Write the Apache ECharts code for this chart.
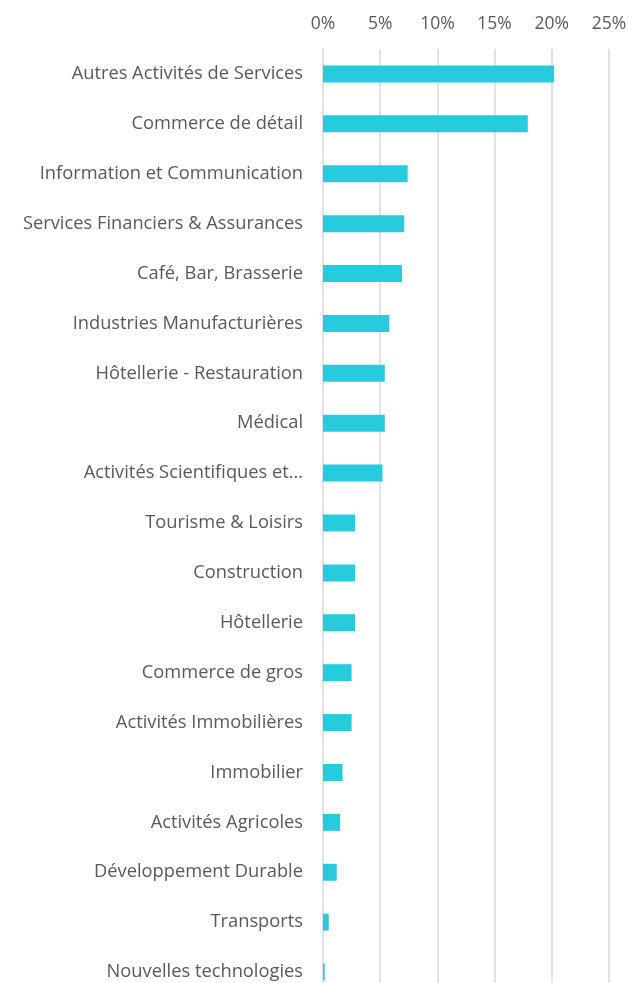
<!DOCTYPE html>
<html>
<head>
<meta charset="utf-8">
<script src="https://cdn.jsdelivr.net/npm/echarts@6/dist/echarts.min.js"></script>
<style>
  html, body { margin: 0; padding: 0; background: #fff; }
  #chart { width: 629px; height: 983px; }
</style>
</head>
<body>
<div id="chart"></div>
<script>
// secteurs (de haut en bas)
var secteurs = [
    'Autres Activités de Services',
    'Commerce de détail',
    'Information et Communication',
    'Services Financiers & Assurances',
    'Café, Bar, Brasserie',
    'Industries Manufacturières',
    'Hôtellerie - Restauration',
    'Médical',
    'Activités Scientifiques et…',
    'Tourisme & Loisirs',
    'Construction',
    'Hôtellerie',
    'Commerce de gros',
    'Activités Immobilières',
    'Immobilier',
    'Activités Agricoles',
    'Développement Durable',
    'Transports',
    'Nouvelles technologies'
];

// part en %
var parts = [20.2, 17.9, 7.4, 7.1, 6.9, 5.8, 5.4, 5.4, 5.2, 2.8, 2.8, 2.8, 2.5, 2.5, 1.7, 1.5, 1.2, 0.5, 0.15];

// graduations de l'axe
var graduations = [0, 5, 10, 15, 20, 25];

var chart = echarts.init(document.getElementById('chart'));

chart.setOption({
    animation: false,
    grid: {
        left: 323,
        top: 49,
        width: 286,
        height: 948,
        outerBoundsMode: 'none'
    },
    xAxis: {
        type: 'value',
        position: 'top',
        min: graduations[0],
        max: graduations[graduations.length - 1],
        interval: 5,
        axisLine: { show: false },
        axisTick: { show: false },
        axisLabel: {
            formatter: '{value}%',
            color: '#595959',
            fontFamily: 'Open Sans',
            fontSize: 17.5,
            margin: 16
        },
        splitLine: {
            lineStyle: { color: '#d9d9d9', width: 1.5 }
        }
    },
    yAxis: {
        type: 'category',
        inverse: true,
        data: secteurs,
        axisLine: { show: false },
        axisTick: { show: false },
        axisLabel: {
            color: '#595959',
            fontFamily: 'Open Sans',
            fontSize: 18.3,
            margin: 20
        }
    },
    series: [{
        type: 'bar',
        data: parts,
        barWidth: 17,
        itemStyle: { color: '#26cbdd' }
    }]
});
</script>
</body>
</html>
